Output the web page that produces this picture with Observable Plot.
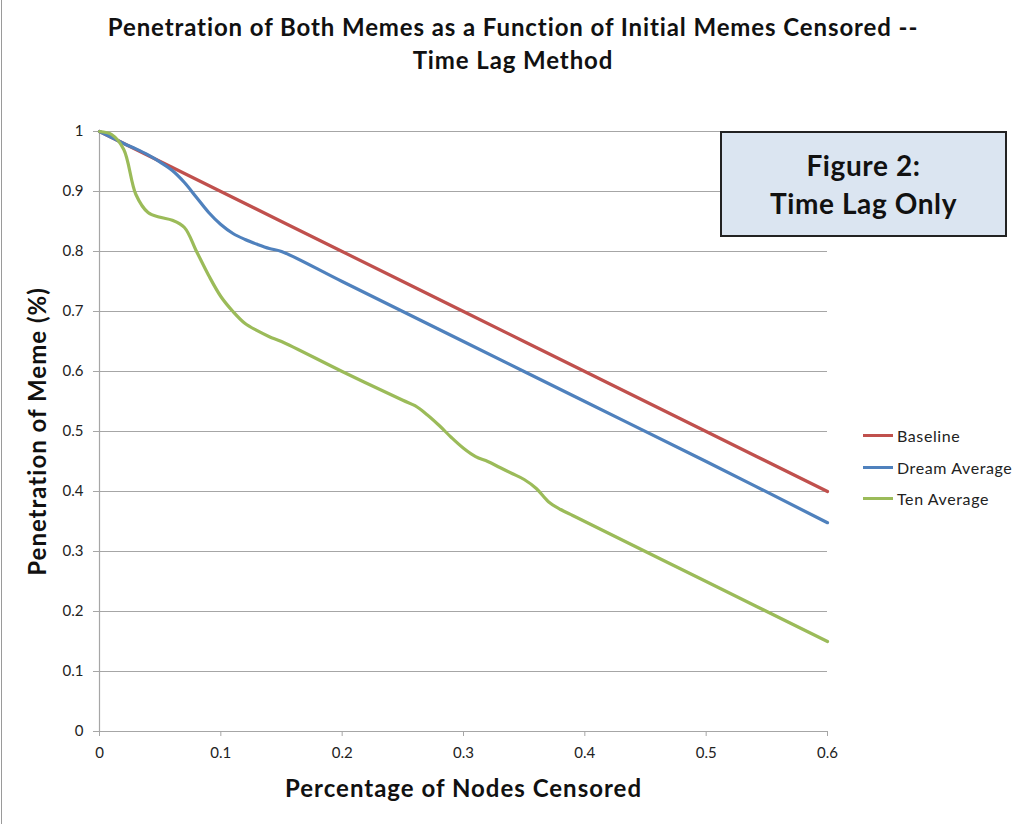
<!DOCTYPE html>
<html>
<head>
<meta charset="utf-8">
<script src="https://cdn.jsdelivr.net/npm/d3@7"></script>
<script src="https://cdn.jsdelivr.net/npm/@observablehq/plot@0.6"></script>
<style>
  body { margin: 0; background: #fff; font-family: Lato, "Open Sans", sans-serif; }
  #wrap { position: relative; width: 1021px; height: 824px; overflow: hidden; }
  #edge { position: absolute; left: 1px; top: 0; width: 1px; height: 824px; background: #9a9a9a; }
  #title { position: absolute; left: 13px; top: 10px; width: 1000px; text-align: center;
           font-weight: bold; font-size: 24px; letter-spacing: 0.9px; line-height: 33px; color: #111; }
  #note { position: absolute; left: 720px; top: 131px; width: 283px; height: 102px;
          background: #dbe5f1; border: 2px solid #222; text-align: center;
          display: flex; flex-direction: column; justify-content: center;
          font-weight: bold; font-size: 28px; letter-spacing: 0.6px; line-height: 38px; color: #111; }
  #legend { position: absolute; left: 863px; top: 420px; font-size: 16px; letter-spacing: 0.6px; color: #222; }
  #legend .row { display: flex; align-items: center; height: 31.5px; }
  #legend .sw { width: 30px; height: 3px; margin-right: 4px; }
  #chart { position: absolute; left: 0; top: 0; }
</style>
</head>
<body>
<div id="wrap">
  <div id="chart"></div>
  <div id="edge"></div>
  <div id="title">Penetration of Both Memes as a Function of Initial Memes Censored --<br>Time Lag Method</div>
  <div id="note"><div>Figure 2:</div><div>Time Lag Only</div></div>
  <div id="legend"></div>
</div>
<script>
// Share of nodes censored (x) and resulting meme penetration (y) per series
const seriesNames = ["Baseline", "Dream Average", "Ten Average"];
const seriesColors = ["#c0504d", "#4f81bd", "#9bbb59"];

const baselineX = [0, 0.1, 0.2, 0.3, 0.4, 0.5, 0.6];
const baselineY = [1, 0.9, 0.8, 0.7, 0.6, 0.5, 0.4];

const dreamX = [0, 0.01, 0.02, 0.03, 0.04, 0.05, 0.06, 0.07, 0.08, 0.09, 0.10, 0.11, 0.12, 0.13, 0.14, 0.15, 0.2, 0.3, 0.4, 0.5, 0.6];
const dreamY = [1, 0.99, 0.98, 0.971, 0.961, 0.949, 0.935, 0.915, 0.89, 0.865, 0.845, 0.83, 0.82, 0.812, 0.805, 0.8, 0.75, 0.65, 0.55, 0.45, 0.348];

const tenX = [0, 0.01, 0.02, 0.03, 0.04, 0.05, 0.06, 0.07, 0.08, 0.09, 0.10, 0.11, 0.12, 0.13, 0.14, 0.15, 0.2, 0.25, 0.26, 0.27, 0.28, 0.29, 0.30, 0.31, 0.32, 0.33, 0.34, 0.35, 0.36, 0.37, 0.38, 0.39, 0.4, 0.5, 0.6];
const tenY = [1, 0.995, 0.97, 0.895, 0.865, 0.857, 0.852, 0.84, 0.8, 0.76, 0.725, 0.7, 0.68, 0.668, 0.658, 0.65, 0.6, 0.552, 0.543, 0.528, 0.51, 0.49, 0.472, 0.458, 0.45, 0.44, 0.43, 0.42, 0.405, 0.383, 0.37, 0.36, 0.35, 0.25, 0.15];

const xTicks = [0, 0.1, 0.2, 0.3, 0.4, 0.5, 0.6];
const yTicks = [0, 0.1, 0.2, 0.3, 0.4, 0.5, 0.6, 0.7, 0.8, 0.9, 1];

const xLabel = "Percentage of Nodes Censored";
const yLabel = "Penetration of Meme (%)";

const series = [
  {name: seriesNames[0], xs: baselineX, ys: baselineY},
  {name: seriesNames[1], xs: dreamX, ys: dreamY},
  {name: seriesNames[2], xs: tenX, ys: tenY}
];
const rows = series.flatMap(s => s.xs.map((x, i) => ({series: s.name, x, y: s.ys[i]})));

const fmt = d => String(+d.toFixed(1));
const gray = "#a6a6a6";

const chart = Plot.plot({
  width: 1021,
  height: 824,
  marginLeft: 99,
  marginRight: 194,
  marginTop: 131,
  marginBottom: 93,
  style: {fontFamily: "Lato, 'Open Sans', sans-serif", background: "transparent", color: "#222"},
  x: {domain: [0, 0.6]},
  y: {domain: [0, 1]},
  color: {domain: seriesNames, range: seriesColors},
  marks: [
    Plot.gridY(yTicks.filter(d => d > 0), {stroke: gray, strokeOpacity: 1, strokeWidth: 1.2}),
    Plot.ruleY([0], {stroke: gray, strokeWidth: 1.2}),
    Plot.ruleX([0], {stroke: gray, strokeWidth: 1.2}),
    Plot.axisY({ticks: yTicks, tickFormat: fmt, tickSize: 6, tickPadding: 10, fontSize: 15, stroke: gray, label: null}),
    Plot.axisX({ticks: xTicks, tickFormat: fmt, tickSize: 5, tickPadding: 11, fontSize: 15, stroke: gray, label: null}),
    Plot.line(rows, {x: "x", y: "y", z: "series", stroke: "series", strokeWidth: 3.2, curve: "catmull-rom"}),
    Plot.text([yLabel], {frameAnchor: "left", dx: -61, rotate: -90, textAnchor: "middle", lineAnchor: "middle", fontSize: 24, fontWeight: "bold", fill: "#111"}),
    Plot.text([xLabel], {frameAnchor: "bottom", dy: 58, textAnchor: "middle", lineAnchor: "middle", fontSize: 24, fontWeight: "bold", fill: "#111"})
  ]
});
// Widen the axis titles slightly
d3.select(chart).selectAll("text")
  .filter(function() { return this.textContent === xLabel || this.textContent === yLabel; })
  .attr("letter-spacing", "1px");
document.getElementById("chart").append(chart);

// Line-swatch legend
const legend = document.getElementById("legend");
seriesNames.forEach((name, i) => {
  const row = document.createElement("div");
  row.className = "row";
  const sw = document.createElement("span");
  sw.className = "sw";
  sw.style.background = seriesColors[i];
  const label = document.createElement("span");
  label.textContent = name;
  row.append(sw, label);
  legend.append(row);
});
</script>
</body>
</html>
